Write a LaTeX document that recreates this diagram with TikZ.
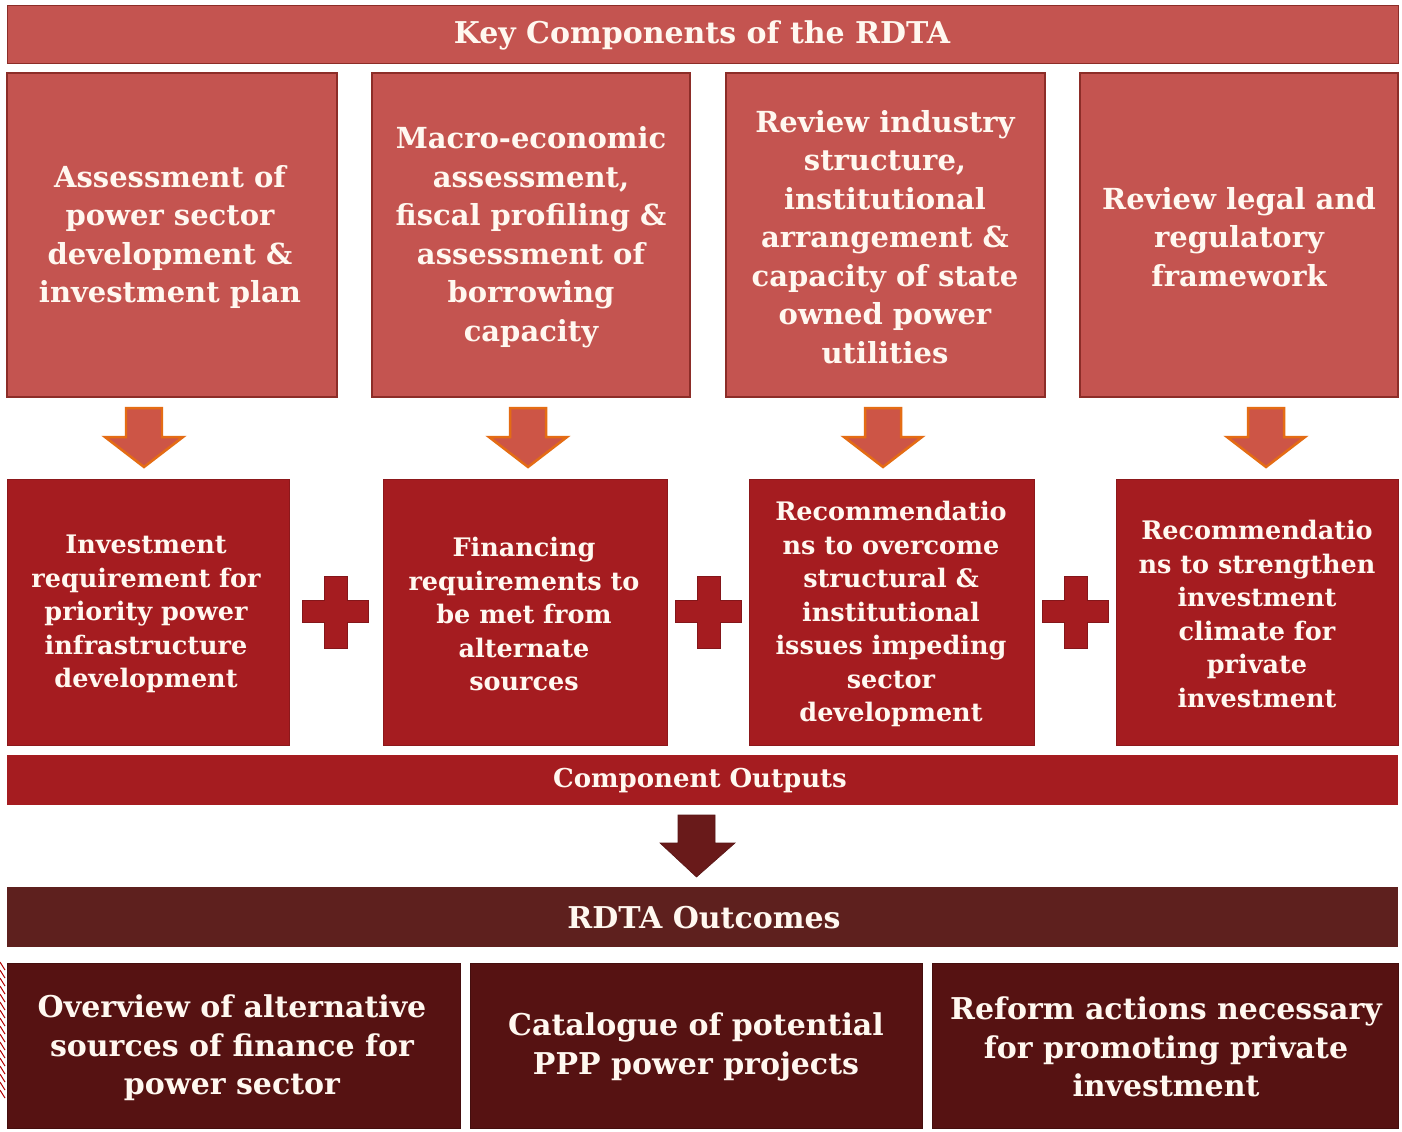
\documentclass[tikz,border=0pt]{standalone}
\usepackage{fontspec}
\setmainfont{DejaVu Serif}
\definecolor{topred}{RGB}{196,84,80}
\definecolor{topedge}{RGB}{140,45,40}
\definecolor{midred}{RGB}{165,28,32}
\definecolor{arrfill}{RGB}{205,85,70}
\definecolor{arredge}{RGB}{228,108,20}
\definecolor{darkarr}{RGB}{105,26,26}
\definecolor{outbar}{RGB}{94,32,30}
\definecolor{botred}{RGB}{86,18,18}
\definecolor{txt}{RGB}{255,248,240}
\tikzset{
  topbox/.style={fill=topred, draw=topedge, line width=1.2pt},
  midbox/.style={fill=midred, draw=midred!85!black, line width=0.6pt},
  botbox/.style={fill=botred, draw=botred!80!black, line width=0.6pt},
  toptxt/.style={text=txt, align=center, font=\bfseries\fontsize{29bp}{38.5bp}\selectfont},
  midtxt/.style={text=txt, align=center, font=\bfseries\fontsize{25.5bp}{33.5bp}\selectfont},
  bottxt/.style={text=txt, align=center, font=\bfseries\fontsize{30bp}{38.5bp}\selectfont},
  bartxt/.style={text=txt, font=\bfseries\fontsize{30bp}{34bp}\selectfont},
  smbartxt/.style={text=txt, font=\bfseries\fontsize{26bp}{30bp}\selectfont},
  orangearrow/.style={fill=arrfill, draw=arredge, line width=2.5pt, line join=miter},
  darkarrow/.style={fill=darkarr, draw=darkarr!85!black, line width=0.6pt},
  plusmark/.style={fill=midred, draw=midred!80!black, line width=0.6pt}
}
\begin{document}
\begin{tikzpicture}[x=1bp,y=-1bp]
\useasboundingbox (0,0) rectangle (1402,1131);
\fill[white] (0,0) rectangle (1402,1131);

% title bar
\fill[topred, draw=topedge, line width=1pt] (7,5) rectangle (1398,63);
\node[bartxt] (title) at (702,35) {Key Components of the RDTA};

% top boxes
\draw[topbox] (7,73) rectangle (337,397);
\draw[topbox] (372,73) rectangle (690,397);
\draw[topbox] (726,73) rectangle (1045,397);
\draw[topbox] (1080,73) rectangle (1398,397);
\node[toptxt] (t1) at (170,237) {Assessment of\\power sector\\development \&\\investment plan};
\node[toptxt] (t2) at (531,237) {Macro-economic\\assessment,\\fiscal profiling \&\\assessment of\\borrowing\\capacity};
\node[toptxt] (t3) at (885,237) {Review industry\\structure,\\institutional\\arrangement \&\\capacity of state\\owned power\\utilities};
\node[toptxt] (t4) at (1239,237) {Review legal and\\regulatory\\framework};

% orange arrows
\foreach \cx/\nm in {144/a1, 528/a2, 883/a3, 1266/a4}{
  \draw[orangearrow] (\cx-18,408) -- (\cx+18,408) -- (\cx+18,437) -- (\cx+39,437)
     -- (\cx,467) -- (\cx-39,437) -- (\cx-18,437) -- cycle;
  \coordinate (\nm) at (\cx,467);
}

% middle boxes
\draw[midbox] (7,479) rectangle (289,745);
\draw[midbox] (383,479) rectangle (667,745);
\draw[midbox] (749,479) rectangle (1034,745);
\draw[midbox] (1116,479) rectangle (1398,745);
\node[midtxt] (m1) at (146,614) {Investment\\requirement for\\priority power\\infrastructure\\development};
\node[midtxt] (m2) at (524,614) {Financing\\requirements to\\be met from\\alternate\\sources};
\node[midtxt] (m3) at (891,614) {Recommendatio\\ns to overcome\\structural \&\\institutional\\issues impeding\\sector\\development};
\node[midtxt] (m4) at (1257,614) {Recommendatio\\ns to strengthen\\investment\\climate for\\private\\investment};

% plus signs
\foreach \cx/\nm in {335/p1, 708/p2, 1075/p3}{
  \draw[plusmark] (\cx-11,576) -- (\cx+12,576) -- (\cx+12,600) -- (\cx+33,600) -- (\cx+33,622)
    -- (\cx+12,622) -- (\cx+12,648) -- (\cx-11,648) -- (\cx-11,622) -- (\cx-33,622)
    -- (\cx-33,600) -- (\cx-11,600) -- cycle;
  \coordinate (\nm) at (\cx,612);
}

% component outputs bar
\fill[midred] (7,755) rectangle (1398,805);
\node[smbartxt] (outputs) at (700,781) {Component Outputs};

% dark arrow
\draw[darkarrow] (678,815) -- (715,815) -- (715,843) -- (735,843) -- (696.5,877)
   -- (660,843) -- (678,843) -- cycle;

% outcomes bar
\fill[outbar] (7,887) rectangle (1398,947);
\node[bartxt] (outcomes) at (704,918) {RDTA Outcomes};

% bottom boxes
\draw[botbox] (7,963) rectangle (460,1128);
\draw[botbox] (470,963) rectangle (922,1128);
\draw[botbox] (932,963) rectangle (1398,1128);
\node[bottxt] (b1) at (232,1048) {Overview of alternative\\sources of finance for\\power sector};
\node[bottxt] (b2) at (696,1047) {Catalogue of potential\\PPP power projects};
\node[bottxt] (b3) at (1166,1047) {Reform actions necessary\\for promoting private\\investment};

% left-edge stripes fragment
\foreach \yy in {962,970,...,1090}{
  \draw[red!70!black, line width=1pt] (0,\yy) -- (5,\yy+8);
}
\end{tikzpicture}
\end{document}
